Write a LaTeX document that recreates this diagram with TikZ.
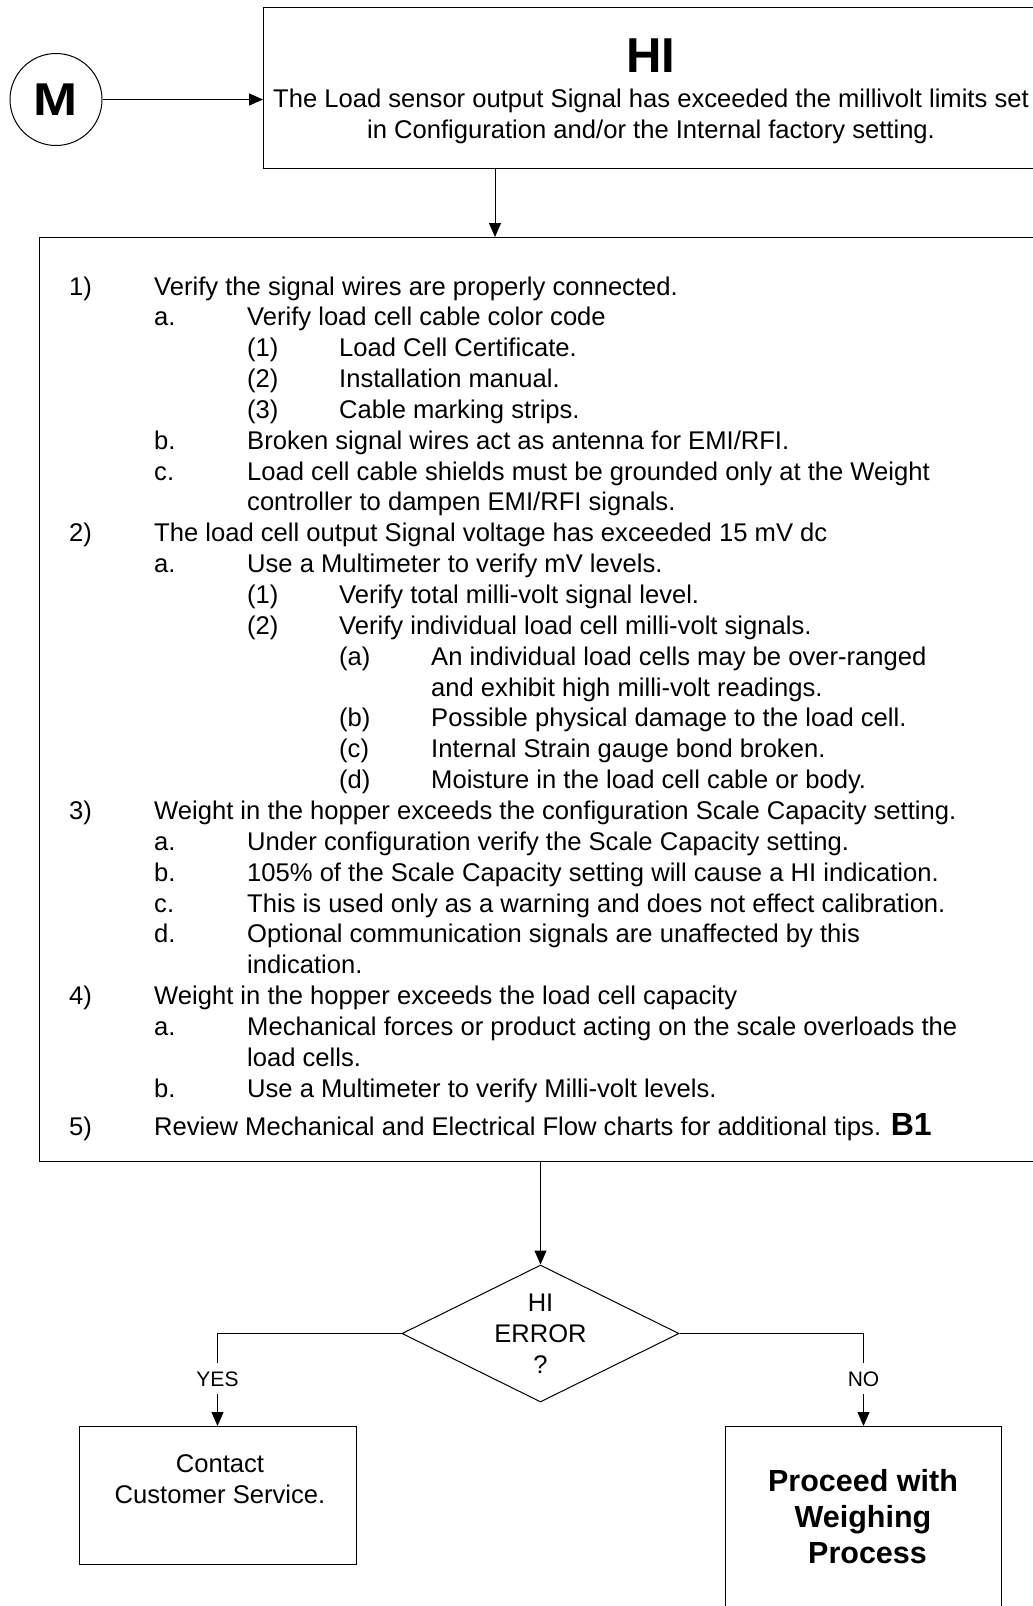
\documentclass[tikz,border=0pt]{standalone}
\usepackage{fontspec}
\usepackage{graphicx}
\setmainfont{Liberation Sans}
\usetikzlibrary{shapes.geometric,arrows.meta}

\tikzset{
  box/.style={draw, line width=1pt, inner sep=0pt},
  arr/.style={-{Triangle[length=14pt,width=12pt]}, line width=1pt},
  listtxt/.style={anchor=base west, inner sep=0pt, font=\fontsize{25.6}{31}\selectfont},
  lbl/.style={fill=white, inner xsep=2pt, inner ysep=8pt, font=\fontsize{21}{24}\selectfont},
}

\begin{document}
\begin{tikzpicture}[x=1pt, y=-1pt]
    \useasboundingbox (0,0) rectangle (1033,1606);
    \clip (0,0) rectangle (1033,1606);

    % Entry point
    \node[box, circle, minimum size=92pt] (m) at (56,99.5) {\fontsize{46}{46}\selectfont\bfseries\scalebox{1.15}[1]{M}};

    % HI box
    \node[box, anchor=north west, minimum width=800pt, minimum height=161pt] (hibox) at (263,7) {};
    \node[anchor=base, inner sep=0pt] (hititle) at (651,72.3) {\fontsize{49}{49}\selectfont\bfseries HI};
    \node[anchor=base, inner sep=0pt, align=center, font=\fontsize{25.6}{30.5}\selectfont] (hitext) at (651,138)
        {The Load sensor output Signal has exceeded the millivolt limits set\\in Configuration and/or the Internal factory setting.};
    \draw[arr] (m.east) -- (m.east -| hibox.west);

    % Checklist box
    \node[box, anchor=north west, minimum width=1030pt, minimum height=924pt] (listbox) at (39,237) {};
    \path (hibox.south west) ++(232,0) coordinate (hidrop);
    \draw[arr] (hidrop) -- (hidrop |- listbox.north);

    % Numbered lines
    \foreach \r/\xl/\xt/\lab/\txt in {
        1/69/154/1)/{Verify the signal wires are properly connected.},
        2/154/247/a./{Verify load cell cable color code},
        3/247/339/(1)/{Load Cell Certificate.},
        4/247/339/(2)/{Installation manual.},
        5/247/339/(3)/{Cable marking strips.},
        6/154/247/b./{Broken signal wires act as antenna for EMI/RFI.},
        7/154/247/c./{Load cell cable shields must be grounded only at the Weight},
        9/69/154/2)/{The load cell output Signal voltage has exceeded 15 mV dc},
        10/154/247/a./{Use a Multimeter to verify mV levels.},
        11/247/339/(1)/{Verify total milli-volt signal level.},
        12/247/339/(2)/{Verify individual load cell milli-volt signals.},
        13/339/431/(a)/{An individual load cells may be over-ranged},
        15/339/431/(b)/{Possible physical damage to the load cell.},
        16/339/431/(c)/{Internal Strain gauge bond broken.},
        17/339/431/(d)/{Moisture in the load cell cable or body.},
        18/69/154/3)/{Weight in the hopper exceeds the configuration Scale Capacity setting.},
        19/154/247/a./{Under configuration verify the Scale Capacity setting.},
        20/154/247/b./{105\% of the Scale Capacity setting will cause a HI indication.},
        21/154/247/c./{This is used only as a warning and does not effect calibration.},
        22/154/247/d./{Optional communication signals are unaffected by this},
        24/69/154/4)/{Weight in the hopper exceeds the load cell capacity},
        25/154/247/a./{Mechanical forces or product acting on the scale overloads the},
        27/154/247/b./{Use a Multimeter to verify Milli-volt levels.}} {
        \node[listtxt] (lab\r) at (\xl, {295+30.85*(\r-1)}) {\lab};
        \node[listtxt] (txt\r) at (\xt, {295+30.85*(\r-1)}) {\txt};
    }
    % Wrapped lines
    \foreach \r/\xt/\txt in {
        8/247/{controller to dampen EMI/RFI signals.},
        14/431/{and exhibit high milli-volt readings.},
        23/247/{indication.},
        26/247/{load cells.}} {
        \node[listtxt] (txt\r) at (\xt, {295+30.85*(\r-1)}) {\txt};
    }
    \node[listtxt] (lab28) at (69,1135) {5)};
    \node[listtxt] (txt28) at (154,1135) {Review Mechanical and Electrical Flow charts for additional tips. {\fontsize{32}{32}\selectfont\bfseries B1}};

    % Decision
    \node[box, diamond, minimum width=277pt, minimum height=137pt] (dia) at (540.5,1333.5) {};
    \node[align=center, inner sep=0pt, font=\fontsize{25.5}{31}\selectfont] (diatext) at (dia.center) {HI\\ERROR\\?};
    \draw[arr] (listbox.south -| dia.north) -- (dia.north);

    % Outcomes
    \node[box, anchor=north, minimum width=277pt, minimum height=138pt] (cs) at (217.5,1426) {};
    \node[anchor=base, inner sep=0pt, align=center, font=\fontsize{25.6}{31}\selectfont] (cstext) at (220,1503) {Contact\\Customer Service.};
    \node[box, anchor=north, minimum width=276.5pt, minimum height=200pt] (proc) at (863.5,1426) {};
    \node[align=center, inner sep=0pt, font=\fontsize{30.5}{36}\selectfont\bfseries] (proctext) at (863,1517) {Proceed with\\Weighing\\\hspace*{9pt}Process};

    \draw[arr] (dia.west) -| node[lbl, pos=0.745] (yes) {YES} (cs.north);
    \draw[arr] (dia.east) -| node[lbl, pos=0.745] (no) {NO} (proc.north);
\end{tikzpicture}
\end{document}
